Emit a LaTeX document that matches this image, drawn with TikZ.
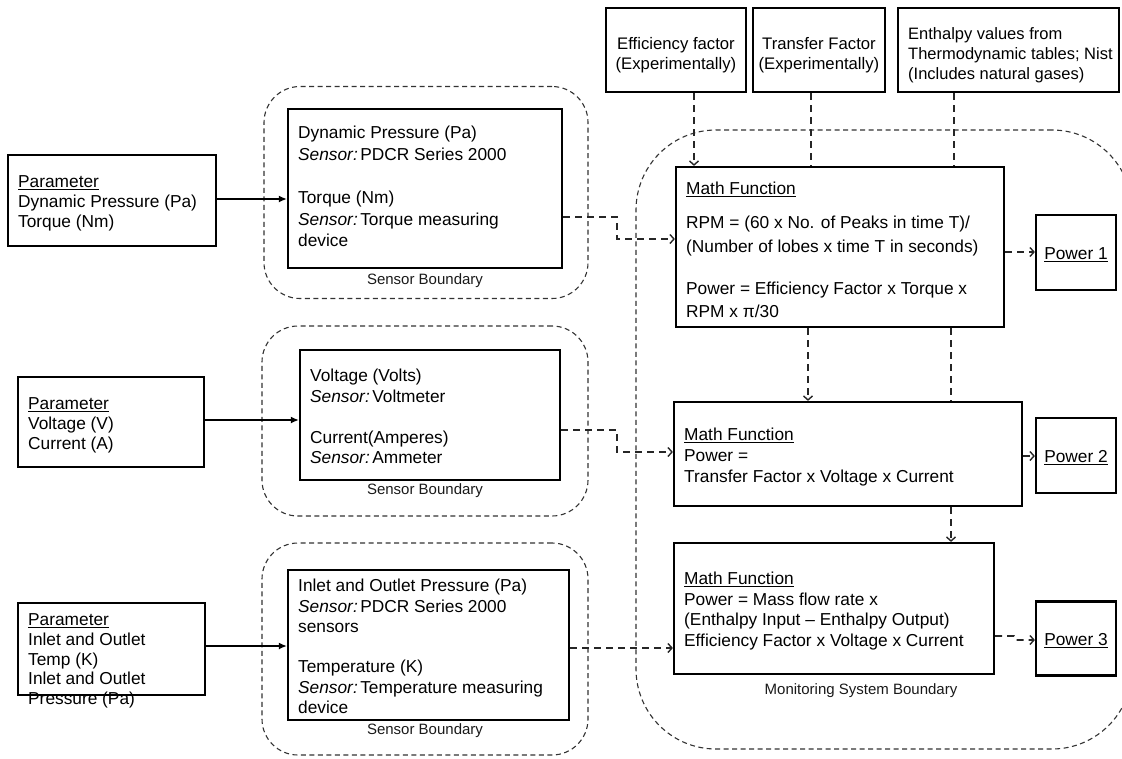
\documentclass[tikz,border=0pt]{standalone}
\usepackage{fontspec}
\setmainfont{Liberation Sans}
\usetikzlibrary{arrows.meta}
\newcommand{\snsr}{\textit{Sensor:}\hspace{2.5pt}}
\begin{document}
\begin{tikzpicture}[x=1pt,y=-1pt,
  box/.style={draw=black, line width=2.2pt, fill=white, inner sep=0pt},
  txt/.style={anchor=west, align=left, inner sep=0pt, font=\fontsize{17.3}{21}\selectfont},
  ctxt/.style={align=center, inner sep=0pt, font=\fontsize{17.3}{21}\selectfont},
  ttxt/.style={inner sep=0pt, font=\fontsize{16.7}{20.5}\selectfont},
  lbl/.style={inner sep=0pt, font=\fontsize{15}{17}\selectfont, text=black!90},
  bnd/.style={draw=black!80, line width=1.1pt, dash pattern=on 5pt off 3.5pt},
  dcon/.style={draw=black!85, line width=1.7pt, dash pattern=on 7pt off 5pt},
  darr/.style={dcon, -{Straight Barb[length=4pt,width=9pt,line width=1.4pt]}},
  sarr/.style={draw=black, line width=1.7pt, -{Latex[length=8pt,width=7pt]}}
]
\useasboundingbox (0,0) rectangle (1122,758);
\clip (0,0) rectangle (1122,758);

% boundaries
\node[bnd, rounded corners=36pt, minimum width=324pt, minimum height=212pt] (sb1) at (426,192.5) {};
\node[bnd, rounded corners=36pt, minimum width=326pt, minimum height=190pt] (sb2) at (425,421) {};
\node[bnd, rounded corners=36pt, minimum width=326pt, minimum height=212pt] (sb3) at (425,649) {};
\node[bnd, rounded corners=80pt, minimum width=496pt, minimum height=619pt] (mb) at (884,439.5) {};

\node[lbl] (sb1l) at (425,281) {Sensor Boundary};
\node[lbl] (sb2l) at (425,491) {Sensor Boundary};
\node[lbl] (sb3l) at (425,731) {Sensor Boundary};
\node[lbl] (mbl) at (861,691) {Monitoring System Boundary};

% parameter boxes
\node[box, minimum width=208pt, minimum height=91pt] (p1) at (112,200.5) {};
\node[txt, font=\fontsize{17.3}{20}\selectfont] (p1t) at (18,203) {\underline{Parameter}\\Dynamic Pressure (Pa)\\Torque (Nm)};
\node[box, minimum width=186pt, minimum height=90pt] (p2) at (111,422) {};
\node[txt, font=\fontsize{17.3}{20}\selectfont] (p2t) at (28,425) {\underline{Parameter}\\Voltage (V)\\Current (A)};
\node[box, minimum width=187pt, minimum height=92pt] (p3) at (111.5,649) {};
\node[txt, font=\fontsize{17.3}{19.7}\selectfont] (p3t) at (28,661) {\underline{Parameter}\\Inlet and Outlet\\Temp (K)\\Inlet and Outlet\\Pressure (Pa)};

% sensor boxes
\node[box, minimum width=274pt, minimum height=159pt] (s1) at (425,188.5) {};
\node[txt, font=\fontsize{17.3}{21.6}\selectfont] (s1t) at (298,186.5) {Dynamic Pressure (Pa)\\\snsr PDCR Series 2000\\[21.6pt]Torque (Nm)\\\snsr Torque measuring\\device};
\node[box, minimum width=260pt, minimum height=130pt] (s2) at (430,415) {};
\node[txt, font=\fontsize{17.3}{20.5}\selectfont] (s2t) at (310,416.5) {Voltage (Volts)\\\snsr Voltmeter\\[20.5pt]Current(Amperes)\\\snsr Ammeter};
\node[box, minimum width=281pt, minimum height=150pt] (s3) at (428.5,645) {};
\node[txt, font=\fontsize{17.3}{20.3}\selectfont] (s3t) at (298,646.5) {Inlet and Outlet Pressure (Pa)\\\snsr PDCR Series 2000\\sensors\\[20.3pt]Temperature (K)\\\snsr Temperature measuring\\device};

% top boxes
\node[box, minimum width=140pt, minimum height=84pt] (t1) at (676,50) {};
\node[ttxt, align=center] (t1t) at (676,55) {Efficiency factor\\(Experimentally)};
\node[box, minimum width=132pt, minimum height=84pt] (t2) at (819,50) {};
\node[ttxt, align=center] (t2t) at (819,55) {Transfer Factor\\(Experimentally)};
\node[box, minimum width=221pt, minimum height=84pt] (t3) at (1008.5,50) {};
\node[ttxt, anchor=west, align=left, font=\fontsize{16.5}{20}\selectfont] (t3t) at (908,55) {Enthalpy values from\\Thermodynamic tables; Nist\\(Includes natural gases)};

% math boxes
\node[box, minimum width=328pt, minimum height=160pt] (m1) at (840,247) {};
\node[txt, font=\fontsize{17.3}{23.5}\selectfont] (m1t) at (686,250) {\underline{Math Function}\\[10.5pt]RPM = (60 x No. of Peaks in time T)/\\(Number of lobes x time T in seconds)\\[18.5pt]Power = Efficiency Factor x Torque x\\RPM x π/30};
\node[box, minimum width=348pt, minimum height=104pt] (m2) at (848,454) {};
\node[txt, font=\fontsize{17.3}{21}\selectfont] (m2t) at (684,457) {\underline{Math Function}\\Power =\\Transfer Factor x Voltage x Current};
\node[box, minimum width=320pt, minimum height=131pt] (m3) at (834,608.5) {};
\node[txt, font=\fontsize{17.3}{20.7}\selectfont] (m3t) at (684,611) {\underline{Math Function}\\Power = Mass flow rate x\\(Enthalpy Input – Enthalpy Output)\\Efficiency Factor x Voltage x Current};

% power boxes
\node[box, minimum width=80pt, minimum height=75pt] (pw1) at (1076,252.5) {};
\node[ctxt] (pw1t) at (1076,255) {\underline{Power 1}};
\node[box, minimum width=80pt, minimum height=75pt] (pw2) at (1076,455.5) {};
\node[ctxt] (pw2t) at (1076,458) {\underline{Power 2}};
\node[box, minimum width=80pt, minimum height=74pt] (pw3) at (1076,638.5) {};
\node[ctxt] (pw3t) at (1076,641) {\underline{Power 3}};

% solid arrows
\draw[sarr] (p1.east |- 0,199) -- (s1.west |- 0,199);
\draw[sarr] (p2.east |- 0,420) -- (s2.west |- 0,420);
\draw[sarr] (p3.east |- 0,646) -- (s3.west |- 0,646);

% sensor to math
\draw[darr] (s1.east |- 0,217) -- (617,217) -- (617,239) -- (m1.west |- 0,239);
\draw[darr] (s2.east |- 0,430) -- (617,430) -- (617,452) -- (m2.west |- 0,452);
\draw[darr] (s3.east |- 0,648) -- (m3.west |- 0,648);

% top to math
\draw[darr] (t1.south -| 694,0) -- (m1.north -| 694,0);
\draw[dcon] (t2.south -| 811,0) -- (m1.north -| 811,0);
\draw[dcon] (t3.south -| 954,0) -- (m1.north -| 954,0);

% math to math
\draw[darr] (m1.south -| 808,0) -- (m2.north -| 808,0);
\draw[dcon] (m1.south -| 951,0) -- (m2.north -| 951,0);
\draw[darr] (m2.south -| 951,0) -- (m3.north -| 951,0);

% math to power
\draw[darr] (m1.east |- 0,252) -- (pw1.west |- 0,252);
\draw[darr] (m2.east |- 0,456) -- (pw2.west |- 0,456);
\draw[darr] (m3.east |- 0,636) -- (1014,636) -- (1016,640) -- (pw3.west |- 0,640);
\end{tikzpicture}
\end{document}
